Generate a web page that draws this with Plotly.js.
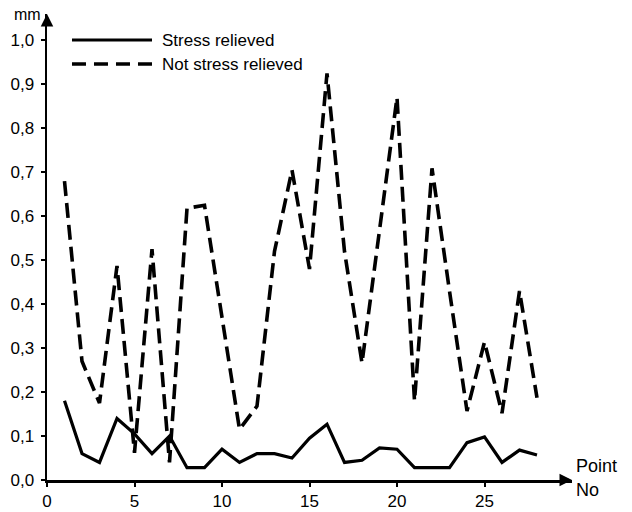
<!DOCTYPE html>
<html>
<head>
<meta charset="utf-8">
<script src="https://cdn.plot.ly/plotly-3.0.1.min.js"></script>
<style>html,body{margin:0;padding:0;background:#fff;}#chart{width:632px;height:512px;}</style>
</head>
<body>
<div id="chart"></div>
<script>
var pointNo = [1,2,3,4,5,6,7,8,9,10,11,12,13,14,15,16,17,18,19,20,21,22,23,24,25,26,27,28];
var stressRelieved = [0.18,0.06,0.04,0.14,0.105,0.06,0.10,0.028,0.028,0.07,0.04,0.06,0.06,0.05,0.095,0.127,0.04,0.045,0.073,0.07,0.028,0.028,0.028,0.085,0.098,0.04,0.068,0.057];
var notStressRelieved = [0.68,0.27,0.175,0.487,0.062,0.525,0.04,0.618,0.625,0.37,0.115,0.168,0.52,0.705,0.48,0.925,0.52,0.266,0.57,0.87,0.18,0.709,0.43,0.157,0.314,0.152,0.43,0.187];
var seriesNames = ["Stress relieved", "Not stress relieved"];
var yTickVals = [0,0.1,0.2,0.3,0.4,0.5,0.6,0.7,0.8,0.9,1.0];
var yTickText = ["0,0","0,1","0,2","0,3","0,4","0,5","0,6","0,7","0,8","0,9","1,0"];
var xTickVals = [0,5,10,15,20,25];

var font = "Liberation Sans, Arial, sans-serif";
var solidLine = {color: "#000", width: 3.2};
var dashLine = {color: "#000", width: 3.6, dash: "15px,7px"};
var traces = [
  {x: pointNo, y: stressRelieved, name: seriesNames[0], type: "scatter", mode: "lines", line: solidLine},
  {x: pointNo, y: notStressRelieved, name: seriesNames[1], type: "scatter", mode: "lines", line: dashLine}
];

// manual legend (paper coords)
var legX0 = 0.0476, legX1 = 0.2, legTextX = 0.2152;
var legY = [0.9442, 0.8927];
var shapes = [
  {type: "line", xref: "paper", yref: "paper", x0: legX0, x1: legX1, y0: legY[0], y1: legY[0], line: {color: "#000", width: 3.2}},
  {type: "line", xref: "paper", yref: "paper", x0: legX0, x1: legX1, y0: legY[1], y1: legY[1], line: {color: "#000", width: 3.6, dash: "14px,8px"}}
];

var layout = {
  width: 632, height: 512,
  margin: {l: 47, r: 60, t: 14, b: 32, pad: 0},
  paper_bgcolor: "#fff", plot_bgcolor: "#fff",
  font: {family: font, size: 17, color: "#000"},
  showlegend: false,
  shapes: shapes,
  xaxis: {range: [0, 30], tickvals: xTickVals, ticks: "outside", ticklen: 4, tickwidth: 2,
          tickcolor: "#000", showline: true, linecolor: "#000", linewidth: 2.5,
          showgrid: false, zeroline: false, tickfont: {size: 17}, ticklabelstandoff: 0, fixedrange: true},
  yaxis: {range: [0, 1.06], tickvals: yTickVals, ticktext: yTickText, ticks: "outside",
          ticklen: 4, tickwidth: 2, tickcolor: "#000", showline: true, linecolor: "#000",
          linewidth: 2.5, showgrid: false, zeroline: false, tickfont: {size: 17}, ticklabelstandoff: 3, fixedrange: true},
  annotations: [
    {xref: "paper", yref: "paper", x: 0, y: 1.0, ax: 0, ay: 12,
     showarrow: true, arrowhead: 2, arrowsize: 1, arrowwidth: 2.5, arrowcolor: "#000", text: ""},
    {xref: "paper", yref: "paper", x: 1.0, y: 0, ax: -12, ay: 0,
     showarrow: true, arrowhead: 2, arrowsize: 1, arrowwidth: 2.5, arrowcolor: "#000", text: ""},
    {xref: "paper", yref: "paper", x: -0.007, y: 1.0, xanchor: "right", yanchor: "middle",
     text: "mm", showarrow: false, font: {size: 16}},
    {xref: "paper", yref: "paper", x: legTextX, y: legY[0], xanchor: "left", yanchor: "middle",
     text: seriesNames[0], showarrow: false, font: {size: 17}},
    {xref: "paper", yref: "paper", x: legTextX, y: legY[1], xanchor: "left", yanchor: "middle",
     text: seriesNames[1], showarrow: false, font: {size: 17}},
    {xref: "paper", yref: "paper", x: 1.004, y: 0.005, xanchor: "left", yanchor: "bottom",
     text: "Point", showarrow: false, font: {size: 18}},
    {xref: "paper", yref: "paper", x: 1.004, y: 0.005, xanchor: "left", yanchor: "top",
     text: "No", showarrow: false, font: {size: 18}}
  ]
};
Plotly.newPlot("chart", traces, layout, {displayModeBar: false, staticPlot: true});
</script>
</body>
</html>
